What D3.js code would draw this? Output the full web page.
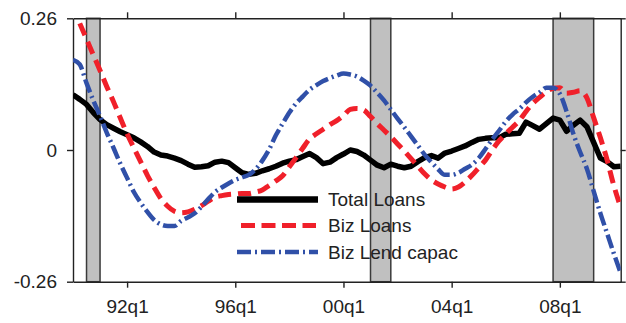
<!DOCTYPE html>
<html><head><meta charset="utf-8">
<script src="https://cdn.jsdelivr.net/npm/d3@7"></script>
<style>body{margin:0;background:#fff}svg{display:block}</style>
</head><body><svg id="c" width="626" height="323"></svg>
<script>
const quarters = [
"1990q1","1990q2","1990q3","1990q4","1991q1","1991q2","1991q3","1991q4",
"1992q1","1992q2","1992q3","1992q4","1993q1","1993q2","1993q3","1993q4",
"1994q1","1994q2","1994q3","1994q4","1995q1","1995q2","1995q3","1995q4",
"1996q1","1996q2","1996q3","1996q4","1997q1","1997q2","1997q3","1997q4",
"1998q1","1998q2","1998q3","1998q4","1999q1","1999q2","1999q3","1999q4",
"2000q1","2000q2","2000q3","2000q4","2001q1","2001q2","2001q3","2001q4",
"2002q1","2002q2","2002q3","2002q4","2003q1","2003q2","2003q3","2003q4",
"2004q1","2004q2","2004q3","2004q4","2005q1","2005q2","2005q3","2005q4",
"2006q1","2006q2","2006q3","2006q4","2007q1","2007q2","2007q3","2007q4",
"2008q1","2008q2","2008q3","2008q4","2009q1","2009q2","2009q3","2009q4",
"2010q1","2010q2"];

const totalLoans = [0.109,0.100,0.090,0.074,0.060,0.050,0.043,0.036,0.030,0.024,0.016,0.007,-0.004,-0.010,-0.012,-0.016,
-0.021,-0.028,-0.034,-0.033,-0.031,-0.024,-0.022,-0.025,-0.035,-0.045,-0.048,-0.046,-0.041,-0.037,-0.032,-0.026,
-0.022,-0.019,-0.013,-0.007,-0.015,-0.027,-0.024,-0.015,-0.008,0.000,-0.003,-0.010,-0.020,-0.030,-0.035,-0.028,
-0.032,-0.035,-0.032,-0.023,-0.015,-0.011,-0.016,-0.006,-0.002,0.003,0.008,0.015,0.021,0.023,0.024,0.024,
0.031,0.032,0.033,0.055,0.048,0.041,0.052,0.063,0.059,0.037,0.049,0.059,0.046,0.015,-0.016,-0.023,-0.033,-0.032];

const bizLoans = [null,0.250,0.219,0.188,0.157,0.125,0.095,0.063,0.032,0.004,-0.023,-0.050,-0.074,-0.096,-0.111,-0.121,
-0.124,-0.122,-0.117,-0.110,-0.101,-0.093,-0.090,-0.088,-0.087,-0.086,-0.086,-0.083,-0.079,-0.070,-0.061,-0.051,
-0.033,-0.015,0.004,0.022,0.032,0.041,0.050,0.058,0.068,0.080,0.082,0.079,0.066,0.052,0.039,0.026,
0.012,-0.002,-0.017,-0.032,-0.047,-0.059,-0.067,-0.073,-0.077,-0.073,-0.063,-0.050,-0.035,-0.020,0.000,0.018,
0.032,0.045,0.058,0.076,0.092,0.104,0.115,0.122,0.123,0.112,0.114,0.117,0.103,0.064,0.024,-0.020,-0.071,-0.113];

const bizLendCapac = [0.178,0.169,0.132,0.098,0.067,0.034,0.004,-0.027,-0.055,-0.083,-0.104,-0.122,-0.138,-0.147,-0.150,-0.150,
-0.140,-0.133,-0.125,-0.112,-0.097,-0.083,-0.074,-0.066,-0.059,-0.054,-0.049,-0.038,-0.021,0.001,0.029,0.052,
0.074,0.092,0.106,0.119,0.128,0.136,0.142,0.147,0.151,0.149,0.145,0.137,0.127,0.113,0.098,0.080,
0.062,0.045,0.027,0.009,-0.009,-0.024,-0.038,-0.049,-0.049,-0.045,-0.037,-0.029,-0.016,0.002,
0.021,0.038,0.056,0.070,0.081,0.094,0.105,0.114,0.123,0.123,0.111,0.076,0.032,-0.004,-0.037,-0.081,-0.125,-0.165,-0.205,-0.243];

const recessionStarts = ["1990q3","2001q1","2007q4"];
const recessionEnds   = ["1991q1","2001q4","2009q2"];

const xTickQuarters = ["1992q1","1996q1","2000q1","2004q1","2008q1"];
const xTickLabels   = ["92q1","96q1","00q1","04q1","08q1"];
const yTickValues   = [-0.26, 0, 0.26];
const yTickLabels   = ["-0.26","0","0.26"];

const seriesNames = ["Total Loans","Biz Loans","Biz Lend capac"];

// ---------------------------------------------------------------
const svg = d3.select("#c");
const L = 73, R = 620.7, T = 18.3, B = 281.7;
const FONT = "'Liberation Sans', Arial, sans-serif";
const toT = q => +q.slice(0,4) + (+q.slice(5) - 1) / 4;

const x = d3.scaleLinear().domain([toT(quarters[0]), toT(quarters[quarters.length-1])]).range([L, R]);
const y = d3.scaleLinear().domain([yTickValues[0], yTickValues[2]]).range([B, T]);

svg.append("defs").append("clipPath").attr("id","clip")
  .append("rect").attr("x",L).attr("y",T).attr("width",R-L).attr("height",B-T);

// recession bands
svg.append("g").selectAll("rect").data(recessionStarts).join("rect")
  .attr("x", (d)=>x(toT(d)))
  .attr("width", (d,i)=>x(toT(recessionEnds[i])) - x(toT(d)))
  .attr("y", T).attr("height", B-T)
  .attr("fill","#c0c0c0").attr("stroke","#3a3a3a").attr("stroke-width",1.5);

// frame / axes
const axStyle = g => {
  g.selectAll("path,line").attr("stroke","#222").attr("stroke-width",1.4);
  g.selectAll("text").attr("fill","#222").style("font-family",FONT).style("font-size","19px");
};
svg.append("g").attr("transform",`translate(0,${B})`)
  .call(d3.axisBottom(x).tickValues(xTickQuarters.map(toT)).tickFormat((d,i)=>xTickLabels[i])
    .tickSize(6).tickSizeOuter(0).tickPadding(12))
  .call(axStyle);
svg.append("g").attr("transform",`translate(0,${T})`)
  .call(d3.axisTop(x).tickValues(xTickQuarters.map(toT)).tickFormat("").tickSize(6).tickSizeOuter(0))
  .call(axStyle);
svg.append("g").attr("transform",`translate(${L},0)`)
  .call(d3.axisLeft(y).tickValues(yTickValues).tickFormat((d,i)=>yTickLabels[i])
    .tickSize(6).tickSizeOuter(0).tickPadding(10))
  .call(axStyle);
svg.append("g").attr("transform",`translate(${R},0)`)
  .call(d3.axisRight(y).tickValues(yTickValues).tickFormat("").tickSize(5).tickSizeOuter(0))
  .call(axStyle);
svg.selectAll(".domain").attr("fill","none");

// lines
const plot = svg.append("g").attr("clip-path","url(#clip)");
const mk = (curve) => d3.line()
  .defined(d => d.v !== null)
  .x(d => x(toT(d.q))).y(d => y(d.v)).curve(curve);
const toPts = arr => arr.map((v,i)=>({q:quarters[i], v}));

const styles = [
  {data: totalLoans,   color:"#000000", w:5.5, dash:null,       curve:d3.curveLinear},
  {data: bizLoans,     color:"#f0202a", w:5,   dash:"13,7",     curve:d3.curveMonotoneX},
  {data: bizLendCapac, color:"#3050a8", w:4.5, dash:"14,4,2,4", curve:d3.curveMonotoneX}
];
styles.forEach(s => {
  plot.append("path").datum(toPts(s.data))
    .attr("d", mk(s.curve)).attr("fill","none")
    .attr("stroke", s.color).attr("stroke-width", s.w)
    .attr("stroke-dasharray", s.dash)
    .attr("stroke-linejoin","round");
});

// legend
const legY = [199.5, 225.5, 252];
const leg = svg.append("g");
styles.forEach((s,i) => {
  leg.append("line")
    .attr("x1", i===1 ? 241 : 237).attr("x2", i===1 ? 316 : 318)
    .attr("y1", legY[i]).attr("y2", legY[i])
    .attr("stroke", s.color).attr("stroke-width", i===0 ? 6.5 : s.w)
    .attr("stroke-dasharray", i===1 ? "14,6.5" : s.dash);
  leg.append("text").attr("x", 328).attr("y", legY[i] + 6.8)
    .text(seriesNames[i]).attr("fill","#222")
    .style("font-family",FONT).style("font-size","19px");
});
</script>
</body></html>
